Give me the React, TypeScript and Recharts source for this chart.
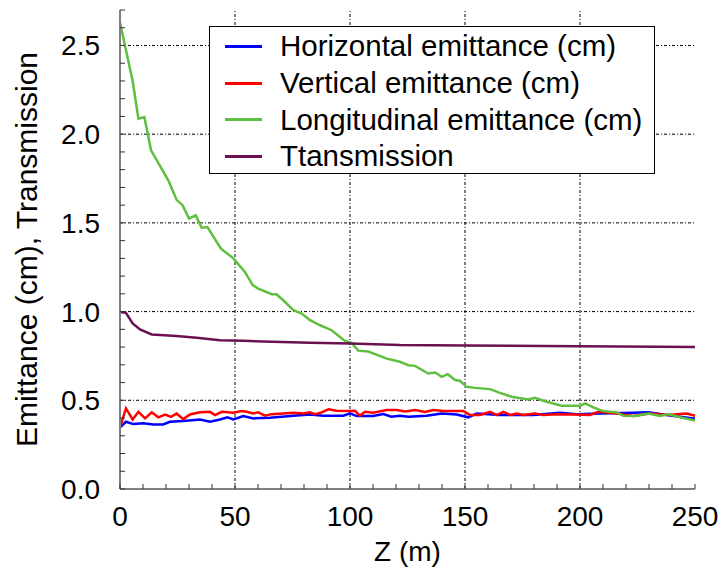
import React from 'react';
import { LineChart, Line, XAxis, YAxis, ReferenceLine, Legend } from 'recharts';

// Beam line simulation along Z: emittances (cm) and transmission
const horizontal = [
  { z: 0, v: 0.347 }, { z: 2.6, v: 0.379 }, { z: 5.8, v: 0.366 }, { z: 10.1, v: 0.37 },
  { z: 14.5, v: 0.364 }, { z: 18.8, v: 0.364 }, { z: 21.7, v: 0.379 }, { z: 27.5, v: 0.383 },
  { z: 34.8, v: 0.392 }, { z: 39.1, v: 0.379 }, { z: 43.5, v: 0.392 }, { z: 46.7, v: 0.404 },
  { z: 49.3, v: 0.392 }, { z: 53.6, v: 0.411 }, { z: 58, v: 0.398 }, { z: 65.2, v: 0.401 },
  { z: 75.4, v: 0.413 }, { z: 82.6, v: 0.42 }, { z: 88.4, v: 0.413 }, { z: 97.1, v: 0.413 },
  { z: 100, v: 0.426 }, { z: 102.9, v: 0.411 }, { z: 110, v: 0.411 }, { z: 114.5, v: 0.422 },
  { z: 118, v: 0.407 }, { z: 121.7, v: 0.413 }, { z: 125.4, v: 0.407 }, { z: 133.3, v: 0.413 },
  { z: 139.9, v: 0.426 }, { z: 146.4, v: 0.42 }, { z: 151.4, v: 0.404 }, { z: 155.1, v: 0.426 },
  { z: 165.2, v: 0.417 }, { z: 179.7, v: 0.417 }, { z: 191.3, v: 0.43 }, { z: 198.6, v: 0.422 },
  { z: 208.7, v: 0.426 }, { z: 223.2, v: 0.43 }, { z: 229.7, v: 0.433 }, { z: 237.7, v: 0.417 },
  { z: 249.3, v: 0.398 }, { z: 250, v: 0.397 },
];

const vertical = [
  { z: 0, v: 0.347 }, { z: 2.6, v: 0.454 }, { z: 5.5, v: 0.392 }, { z: 8, v: 0.435 },
  { z: 10.9, v: 0.398 }, { z: 13.8, v: 0.432 }, { z: 16.7, v: 0.404 }, { z: 19.6, v: 0.42 },
  { z: 22.2, v: 0.407 }, { z: 24.6, v: 0.426 }, { z: 27.5, v: 0.394 }, { z: 30.4, v: 0.42 },
  { z: 34.8, v: 0.432 }, { z: 39.1, v: 0.435 }, { z: 41.3, v: 0.417 }, { z: 44.2, v: 0.435 },
  { z: 49.3, v: 0.43 }, { z: 52.9, v: 0.439 }, { z: 55.1, v: 0.435 }, { z: 58, v: 0.426 },
  { z: 60.1, v: 0.432 }, { z: 63, v: 0.413 }, { z: 66, v: 0.422 }, { z: 71, v: 0.426 },
  { z: 75.4, v: 0.43 }, { z: 79.7, v: 0.426 }, { z: 82.6, v: 0.432 }, { z: 84.8, v: 0.422 },
  { z: 87.7, v: 0.432 }, { z: 90.6, v: 0.449 }, { z: 94.2, v: 0.441 }, { z: 100, v: 0.439 },
  { z: 102.2, v: 0.441 }, { z: 104.3, v: 0.413 }, { z: 106.5, v: 0.435 }, { z: 110, v: 0.43 },
  { z: 116, v: 0.445 }, { z: 120.3, v: 0.445 }, { z: 124, v: 0.437 }, { z: 128.3, v: 0.445 },
  { z: 132.6, v: 0.434 }, { z: 136.2, v: 0.445 }, { z: 140.6, v: 0.439 }, { z: 149.3, v: 0.439 },
  { z: 152.2, v: 0.417 }, { z: 156.5, v: 0.417 }, { z: 160.9, v: 0.435 }, { z: 163.8, v: 0.417 },
  { z: 166.7, v: 0.435 }, { z: 169.6, v: 0.417 }, { z: 172.5, v: 0.426 }, { z: 175.4, v: 0.417 },
  { z: 180.4, v: 0.426 }, { z: 184, v: 0.417 }, { z: 189.9, v: 0.422 }, { z: 197.1, v: 0.42 },
  { z: 204.3, v: 0.417 }, { z: 208, v: 0.435 }, { z: 216, v: 0.426 }, { z: 223.2, v: 0.411 },
  { z: 230.4, v: 0.426 }, { z: 237.7, v: 0.417 }, { z: 246.4, v: 0.426 }, { z: 250, v: 0.413 },
];

const longitudinal = [
  { z: 0, v: 2.63 }, { z: 5.5, v: 2.3 }, { z: 8, v: 2.087 }, { z: 10.6, v: 2.096 },
  { z: 13.5, v: 1.909 }, { z: 21, v: 1.74 }, { z: 24.6, v: 1.63 }, { z: 27.2, v: 1.6 },
  { z: 30, v: 1.524 }, { z: 32.9, v: 1.543 }, { z: 35.5, v: 1.473 }, { z: 38, v: 1.477 },
  { z: 43.9, v: 1.355 }, { z: 49.3, v: 1.3 }, { z: 54.3, v: 1.224 }, { z: 57.7, v: 1.149 },
  { z: 60.1, v: 1.13 }, { z: 66, v: 1.098 }, { z: 68, v: 1.098 }, { z: 71, v: 1.064 },
  { z: 75.4, v: 1.008 }, { z: 79, v: 0.989 }, { z: 82.6, v: 0.952 }, { z: 87, v: 0.923 },
  { z: 92, v: 0.895 }, { z: 97.8, v: 0.835 }, { z: 100.7, v: 0.824 }, { z: 103.6, v: 0.78 },
  { z: 108, v: 0.775 }, { z: 112, v: 0.755 }, { z: 116, v: 0.735 }, { z: 121.7, v: 0.717 },
  { z: 125.4, v: 0.698 }, { z: 128.3, v: 0.694 }, { z: 134, v: 0.651 }, { z: 137, v: 0.657 },
  { z: 139.9, v: 0.632 }, { z: 142.5, v: 0.647 }, { z: 145.7, v: 0.614 }, { z: 147.8, v: 0.61 },
  { z: 150.7, v: 0.576 }, { z: 154.3, v: 0.57 }, { z: 160.9, v: 0.563 }, { z: 165.2, v: 0.542 },
  { z: 170.3, v: 0.52 }, { z: 177.5, v: 0.505 }, { z: 180.4, v: 0.514 }, { z: 185.5, v: 0.492 },
  { z: 192, v: 0.469 }, { z: 200, v: 0.469 }, { z: 202.2, v: 0.482 }, { z: 205.8, v: 0.46 },
  { z: 210, v: 0.439 }, { z: 216, v: 0.432 }, { z: 218.8, v: 0.413 }, { z: 223.9, v: 0.411 },
  { z: 229.7, v: 0.426 }, { z: 234.8, v: 0.411 }, { z: 238.4, v: 0.422 }, { z: 243.5, v: 0.404 },
  { z: 250, v: 0.386 },
];

const transmission = [
  { z: 0, v: 0.998 }, { z: 2.6, v: 0.993 }, { z: 5.5, v: 0.933 }, { z: 8.7, v: 0.899 },
  { z: 13.8, v: 0.871 }, { z: 24.6, v: 0.863 }, { z: 33.3, v: 0.852 }, { z: 43.5, v: 0.839 },
  { z: 53.6, v: 0.835 }, { z: 82.6, v: 0.824 }, { z: 100, v: 0.82 }, { z: 121.7, v: 0.811 },
  { z: 150, v: 0.809 }, { z: 200, v: 0.805 }, { z: 250, v: 0.8 },
];

const seriesNames = ['Horizontal emittance (cm)', 'Vertical emittance (cm)', 'Longitudinal emittance (cm)', 'Ttansmission'];

const xTicks = [0, 10, 20, 30, 40, 50, 60, 70, 80, 90, 100, 110, 120, 130, 140, 150, 160, 170, 180, 190, 200, 210, 220, 230, 240, 250];
const xMajorLabels = ['0', '50', '100', '150', '200', '250'];
const xGrid = [50, 100, 150, 200];

const yTicks = [0, 0.1, 0.2, 0.3, 0.4, 0.5, 0.6, 0.7, 0.8, 0.9, 1.0, 1.1, 1.2, 1.3, 1.4, 1.5, 1.6, 1.7, 1.8, 1.9, 2.0, 2.1, 2.2, 2.3, 2.4, 2.5, 2.6, 2.7];
const yMajorLabels = ['0.0', '0.5', '1.0', '1.5', '2.0', '2.5'];
const yGrid = [0.5, 1.0, 1.5, 2.0, 2.5];

const FONT = '"Liberation Sans", Arial, sans-serif';
const TICK_LEN = 5;
const gridDash = '3 2 1 2';

const fmtY = (v: number) => v.toFixed(1);

const BottomTick = (props: any) => {
  const { x, y, payload } = props;
  const label = String(payload.value);
  return (
    <g>
      <line x1={x} y1={y} x2={x} y2={y - TICK_LEN} stroke="#333" strokeWidth={1} />
      {xMajorLabels.includes(label) && (
        <text x={x} y={y + 37} textAnchor="middle" fontSize={28} fontFamily={FONT} fill="#000">{label}</text>
      )}
    </g>
  );
};

const TopTick = (props: any) => {
  const { x, y } = props;
  return <line x1={x} y1={y} x2={x} y2={y + TICK_LEN} stroke="#333" strokeWidth={1} />;
};

const LeftTick = (props: any) => {
  const { x, y, payload } = props;
  const label = fmtY(Number(payload.value));
  return (
    <g>
      <line x1={x} y1={y} x2={x + TICK_LEN} y2={y} stroke="#333" strokeWidth={1} />
      {yMajorLabels.includes(label) && (
        <text x={x - 20} y={y + 10} textAnchor="end" fontSize={28} fontFamily={FONT} fill="#000">{label}</text>
      )}
    </g>
  );
};

const RightTick = (props: any) => {
  const { x, y } = props;
  return <line x1={x} y1={y} x2={x - TICK_LEN} y2={y} stroke="#333" strokeWidth={1} />;
};

const LegendBox = (props: any) => {
  const items = [...(props.payload || [])].sort(
    (a: any, b: any) => seriesNames.indexOf(a.value) - seriesNames.indexOf(b.value)
  );
  return (
    <div
      style={{
        width: 444,
        height: 145,
        border: '1.5px solid #000',
        background: '#fff',
        boxSizing: 'content-box',
        fontFamily: FONT,
        fontSize: 29.5,
        color: '#000',
        paddingTop: 1,
      }}
    >
      {items.map((it: any) => (
        <div key={it.value} style={{ display: 'flex', alignItems: 'center', height: 36.7, whiteSpace: 'nowrap' }}>
          <span style={{ display: 'inline-block', width: 37, height: 3, background: it.color, marginLeft: 15, marginRight: 18 }} />
          <span>{it.value}</span>
        </div>
      ))}
    </div>
  );
};

export default function App() {
  return (
    <div style={{ position: 'absolute', left: 0, top: 0, width: 722, height: 571, background: '#fff' }}>
      <LineChart width={722} height={571} margin={{ top: 10, right: 27, left: 0, bottom: 0 }}>
        <XAxis
          xAxisId="b"
          dataKey="z"
          type="number"
          domain={[0, 250]}
          ticks={xTicks}
          interval={0}
          orientation="bottom"
          height={82}
          tickSize={0}
          tickMargin={0}
          tick={<BottomTick />}
          axisLine={{ stroke: '#808080', strokeWidth: 2 }}
          label={{ value: 'Z (m)', position: 'insideBottom', offset: 10, fontSize: 28, fontFamily: FONT, fill: '#000' }}
        />
        <XAxis
          xAxisId="t"
          dataKey="z"
          type="number"
          domain={[0, 250]}
          ticks={xTicks}
          interval={0}
          orientation="top"
          height={0}
          tickSize={0}
          tickMargin={0}
          tick={<TopTick />}
          axisLine={{ stroke: '#222', strokeWidth: 1.5 }}
        />
        <YAxis
          yAxisId="l"
          type="number"
          domain={[0, 2.7]}
          ticks={yTicks}
          interval={0}
          orientation="left"
          width={120}
          tickSize={0}
          tickMargin={0}
          tick={<LeftTick />}
          axisLine={{ stroke: '#808080', strokeWidth: 2 }}
          label={{
            value: 'Emittance (cm), Transmission',
            angle: -90,
            position: 'insideLeft',
            offset: 26,
            fontSize: 30,
            fontFamily: FONT,
            fill: '#000',
            style: { textAnchor: 'middle' },
          }}
        />
        <YAxis
          yAxisId="r"
          type="number"
          domain={[0, 2.7]}
          ticks={yTicks}
          interval={0}
          orientation="right"
          width={0}
          tickSize={0}
          tickMargin={0}
          tick={<RightTick />}
          axisLine={{ stroke: '#808080', strokeWidth: 2 }}
        />

        {xGrid.map((g) => (
          <ReferenceLine key={'gx' + g} xAxisId="b" yAxisId="l" x={g} stroke="#000" strokeWidth={1} strokeDasharray={gridDash} />
        ))}
        {yGrid.map((g) => (
          <ReferenceLine key={'gy' + g} xAxisId="b" yAxisId="l" y={g} stroke="#000" strokeWidth={1} strokeDasharray={gridDash} />
        ))}

        <Line xAxisId="b" yAxisId="l" data={horizontal} dataKey="v" name={seriesNames[0]} stroke="#0000ff" strokeWidth={2.5} dot={false} isAnimationActive={false} />
        <Line xAxisId="b" yAxisId="l" data={vertical} dataKey="v" name={seriesNames[1]} stroke="#ff0000" strokeWidth={2.5} dot={false} isAnimationActive={false} />
        <Line xAxisId="b" yAxisId="l" data={longitudinal} dataKey="v" name={seriesNames[2]} stroke="#5fbf3f" strokeWidth={2.5} dot={false} isAnimationActive={false} />
        <Line xAxisId="b" yAxisId="l" data={transmission} dataKey="v" name={seriesNames[3]} stroke="#6b1150" strokeWidth={2.5} dot={false} isAnimationActive={false} />

        <Legend
          layout="vertical"
          align="center"
          verticalAlign="middle"
          content={<LegendBox />}
          wrapperStyle={{ left: 209, top: 26, width: 447, height: 148 }}
        />
      </LineChart>
    </div>
  );
}
